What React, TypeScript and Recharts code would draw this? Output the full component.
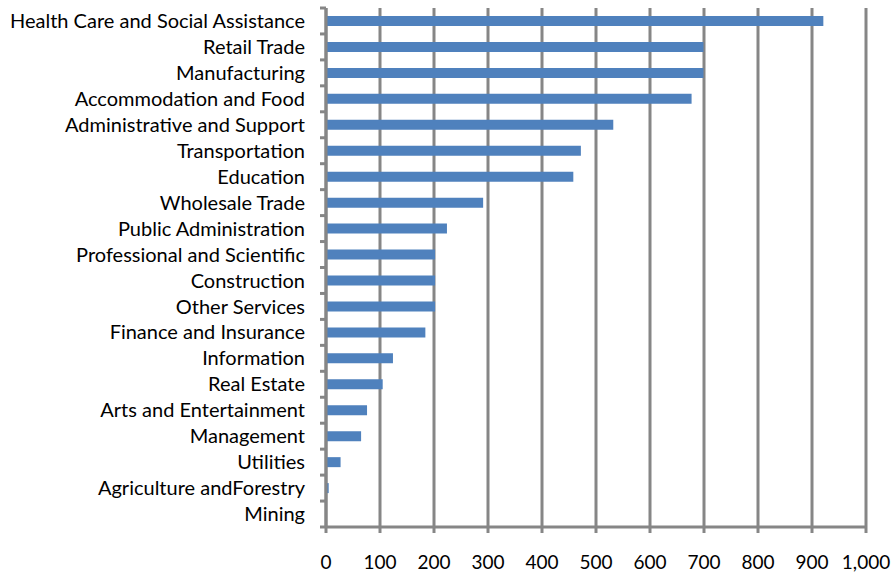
import React from "react";
import { BarChart, Bar, XAxis, YAxis, CartesianGrid } from "recharts";

const categories = [
  "Health Care and Social Assistance",
  "Retail Trade",
  "Manufacturing",
  "Accommodation and Food",
  "Administrative and Support",
  "Transportation",
  "Education",
  "Wholesale Trade",
  "Public Administration",
  "Professional and Scientific",
  "Construction",
  "Other Services",
  "Finance and Insurance",
  "Information",
  "Real Estate",
  "Arts and Entertainment",
  "Management",
  "Utilities",
  "Agriculture andForestry",
  "Mining",
];
const values = [921, 699, 699, 677, 532, 472, 458, 291, 224, 202, 202, 202, 184, 124, 105, 76, 65, 27, 5, 0];
const xTicks = [0, 100, 200, 300, 400, 500, 600, 700, 800, 900, 1000];

const data = categories.map((name, i) => ({ name, value: values[i] }));

const GRID = "#868686";
const FONT = "Lato, 'Open Sans', sans-serif";
const CAT_MARGIN = 21;
const TICK_LEN = 6;

const CategoryTick = (props: any) => {
  const { x, y, payload, index, visibleTicksCount } = props;
  const half = payload?.offset ?? 0;
  const ax = x + CAT_MARGIN;
  const isLast = index === (visibleTicksCount ?? categories.length) - 1;
  return (
    <g>
      <line x1={ax - TICK_LEN} x2={ax} y1={y - half} y2={y - half} stroke={GRID} strokeWidth={3} />
      {isLast && <line x1={ax - TICK_LEN} x2={ax} y1={y + half} y2={y + half} stroke={GRID} strokeWidth={3} />}
      <text x={x} y={y} dy="0.355em" textAnchor="end" fill="#000" fontSize={20} fontFamily={FONT}>
        {payload.value}
      </text>
    </g>
  );
};

export default function App() {
  return (
    <div style={{ position: "absolute", left: 0, top: 0, width: 893, height: 575, background: "#fff" }}>
      <BarChart
        width={893}
        height={575}
        data={data}
        layout="vertical"
        margin={{ top: 8, right: 27, bottom: 0, left: 0 }}
        barSize={10}
      >
        <CartesianGrid vertical={true} horizontal={false} stroke={GRID} strokeWidth={3} strokeOpacity={1} />
        <XAxis
          type="number"
          domain={[0, 1000]}
          ticks={xTicks}
          interval={0}
          height={48}
          tickSize={6}
          tickMargin={23}
          axisLine={{ stroke: GRID, strokeWidth: 3 }}
          tickLine={{ stroke: GRID, strokeWidth: 3 }}
          tickFormatter={(v: number) => v.toLocaleString("en-US")}
          tick={{ fill: "#000", fontSize: 19, fontFamily: FONT }}
        />
        <YAxis
          type="category"
          dataKey="name"
          width={326}
          interval={0}
          axisLine={{ stroke: GRID, strokeWidth: 3 }}
          tickLine={false}
          tickSize={0}
          tickMargin={CAT_MARGIN}
          tick={<CategoryTick />}
        />
        <Bar dataKey="value" fill="#4F81BD" isAnimationActive={false} />
      </BarChart>
    </div>
  );
}
